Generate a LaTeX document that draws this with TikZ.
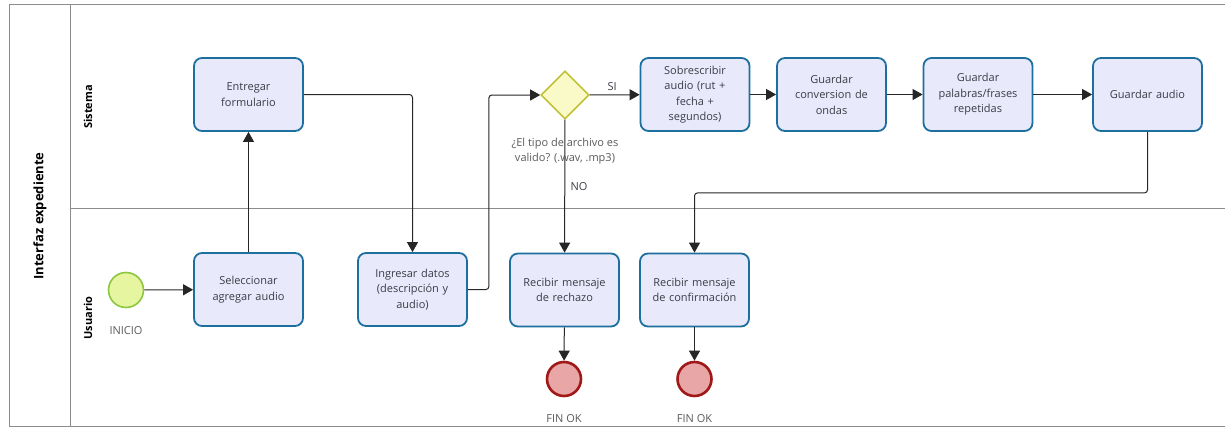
\documentclass[tikz,border=0pt]{standalone}
\usepackage{fontspec}
\setmainfont{Open Sans}
\usepackage{tikz}
\usetikzlibrary{shapes.geometric,arrows.meta}

\definecolor{taskfill}{HTML}{E8EAFB}
\definecolor{taskline}{HTML}{1D6F9F}
\definecolor{txtcol}{HTML}{3C3C46}
\definecolor{lblcol}{HTML}{5A5A5A}
\definecolor{gatefill}{HTML}{FAFAC8}
\definecolor{gateline}{HTML}{C2C238}
\definecolor{startfill}{HTML}{E6F5A0}
\definecolor{startline}{HTML}{8DC63F}
\definecolor{endfill}{HTML}{E8A6A6}
\definecolor{endline}{HTML}{A01818}

\begin{document}
\begin{tikzpicture}[x=1pt, y=-1pt, >={Triangle[length=10pt,width=11pt]},
		font=\fontsize{11}{15.5}\selectfont]
		\tikzstyle{task}=[draw=taskline, line width=1.8pt, fill=taskfill, rounded corners=8pt,
			minimum width=109pt, minimum height=73pt, text width=106pt, align=center,
			text=txtcol, inner sep=1pt]
		\tikzstyle{gateway}=[diamond, draw=gateline, line width=1.6pt, fill=gatefill,
			minimum width=48pt, minimum height=48pt, inner sep=0pt]
		\tikzstyle{startev}=[circle, draw=startline, line width=1.6pt, fill=startfill,
			minimum size=35pt, inner sep=0pt]
		\tikzstyle{endev}=[circle, draw=endline, line width=2.6pt, fill=endfill,
			minimum size=34pt, inner sep=0pt]
		\tikzstyle{evlabel}=[text=lblcol, align=center]
		\tikzstyle{flow}=[->, line width=1pt, draw=black!85, rounded corners=3pt]
		\tikzstyle{lane}=[line width=1pt, draw=black!45]
		\tikzstyle{lanelabel}=[rotate=90, font=\fontsize{11}{13}\selectfont\bfseries, text=black]
		\useasboundingbox (0,0) rectangle (1225,428);

		% pool and lanes
		\draw[lane] (1225,5) -- (9,5) -- (9,426) -- (1225,426);
		\draw[lane] (70,5) -- (70,426);
		\draw[lane] (70,208) -- (1225,208);
		\node[lanelabel, font=\fontsize{13}{15}\selectfont\bfseries] (pool) at (40,216) {Interfaz expediente};
		\node[lanelabel] (sistema) at (88,107) {Sistema};
		\node[lanelabel] (usuario) at (88,318) {Usuario};

		% usuario lane
		\node[startev] (inicio) at (126,290) {};
		\node[evlabel] (inicioLbl) at (126,331) {INICIO};
		\node[task] (seleccionar) at (248.5,289.5) {Seleccionar\\agregar audio};
		\node[task] (ingresar) at (412.5,289.5) {Ingresar datos\\(descripción y\\audio)};
		\node[task] (rechazo) at (564.5,290) {Recibir mensaje\\de rechazo};
		\node[task] (confirmacion) at (694.5,290) {Recibir mensaje\\de confirmación};
		\node[endev] (fin1) at (564,379) {};
		\node[endev] (fin2) at (694.5,379) {};
		\node[evlabel] (fin1Lbl) at (564,419) {FIN OK};
		\node[evlabel] (fin2Lbl) at (694.5,419) {FIN OK};

		% sistema lane
		\node[task] (entregar) at (248.5,94.5) {Entregar\\formulario};
		\node[gateway] (valido) at (565,95) {};
		\node[task] (sobrescribir) at (695,94.5) {Sobrescribir\\audio (rut +\\fecha +\\segundos)};
		\node[task] (conversion) at (831.5,94.5) {Guardar\\conversion de\\ondas};
		\node[task] (palabras) at (978,94.5) {Guardar\\palabras/frases\\repetidas};
		\node[task] (guardar) at (1147.5,94.5) {Guardar audio};

		\draw[flow] (inicio) -- (seleccionar);
		\draw[flow] (seleccionar) -- (entregar);
		\draw[flow] (entregar.east) -| (ingresar.north);
		\draw[flow] (ingresar.east) -- ++(21,0) |- (valido.west);
		\draw[flow] (valido) -- node[above, text=txtcol, pos=0.45] {SI} (sobrescribir);
		\draw[flow] (valido) -- node[right, text=txtcol, pos=0.5, xshift=2pt] {NO} (rechazo);
		\draw[flow] (sobrescribir) -- (conversion);
		\draw[flow] (conversion) -- (palabras);
		\draw[flow] (palabras) -- (guardar);
		\draw[flow] (guardar.south) -- ++(0,61) -| (confirmacion.north);
		\draw[flow] (rechazo) -- (fin1);
		\draw[flow] (confirmacion) -- (fin2);

		\node[evlabel] (validoLbl) at (565,151) {¿El tipo de archivo es\\valido? (.wav, .mp3)};
	\end{tikzpicture}
\end{document}
